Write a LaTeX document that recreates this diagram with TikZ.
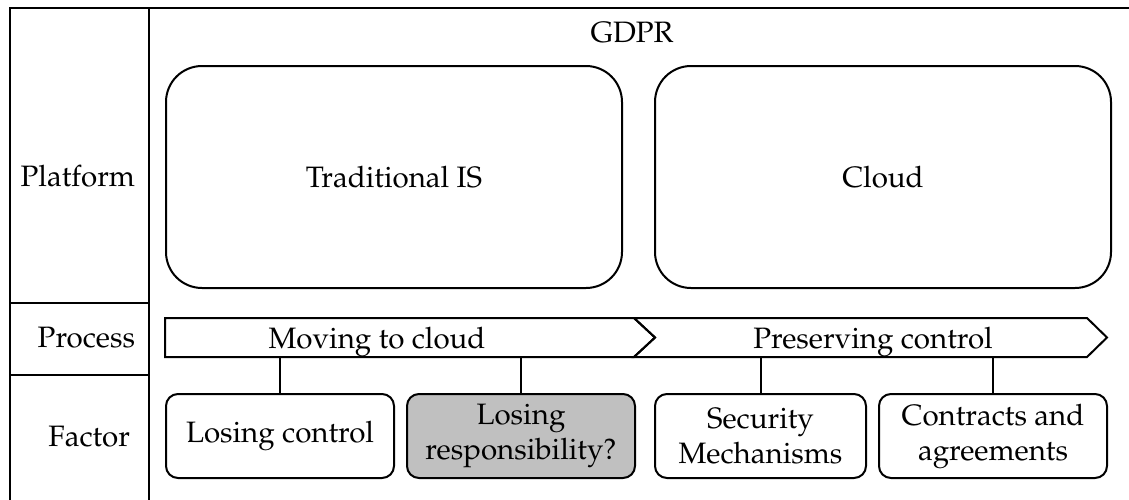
\documentclass[tikz,border=0pt]{standalone}
\usepackage[T1]{fontenc}
\usepackage{mathpazo}
\definecolor{boxgray}{RGB}{192,192,192}
\begin{document}
\begin{tikzpicture}[x=1pt,y=-1pt, line width=2pt,
  every node/.style={font=\fontsize{29.5}{35}\selectfont, inner sep=0pt},
  bigbox/.style={draw, rounded corners=36pt, minimum width=456pt, minimum height=222pt},
  factorbox/.style={draw, rounded corners=12pt, minimum height=84pt, align=center},
  proc/.style={draw, line join=miter}]
\useasboundingbox (0,0) rectangle (1129,499);
\clip (0,0) rectangle (1129,499);
% frame
\draw (10,520) -- (10,8) -- (1140,8);
\draw (149,8) -- (149,520);
\draw (10,303) -- (149,303);
\draw (10,375) -- (149,375);
% row labels
\node[anchor=base east] (lplat) at (136,186) {Platform};
\node[anchor=base east] (lproc) at (136,347) {Process};
\node[anchor=base east] (lfact) at (131,446) {Factor};
% GDPR
\node[anchor=base] (gdpr) at (632,42) {GDPR};
% platform boxes
\node[bigbox] (tis) at (394,177) {Traditional IS};
\node[bigbox] (cloud) at (883,177) {Cloud};
% process chevrons
\draw[proc] (165,318) -- (634,318) -- (655,337.5) -- (634,357) -- (165,357) -- cycle;
\draw[proc] (634,318) -- (1087,318) -- (1107,337.5) -- (1087,357) -- (634,357) -- (655,337.5) -- cycle;
\node[anchor=base] (mv) at (377,348) {Moving to cloud};
\node[anchor=base] (pc) at (873,348) {Preserving control};
\coordinate (pb) at (0,357);
% factor boxes
\node[factorbox, minimum width=228pt] (lc) at (280,436) {Losing control};
\node[factorbox, minimum width=228pt, fill=boxgray] (lr) at (521,436) {Losing\\responsibility?};
\node[factorbox, minimum width=211pt] (sm) at (760.5,436) {Security\\Mechanisms};
\node[factorbox, minimum width=228pt] (ca) at (993,436) {Contracts and\\agreements};
% connectors
\draw (lc.north) -- (lc.north |- pb);
\draw (lr.north) -- (lr.north |- pb);
\draw (sm.north) -- (sm.north |- pb);
\draw (ca.north) -- (ca.north |- pb);
\end{tikzpicture}
\end{document}
